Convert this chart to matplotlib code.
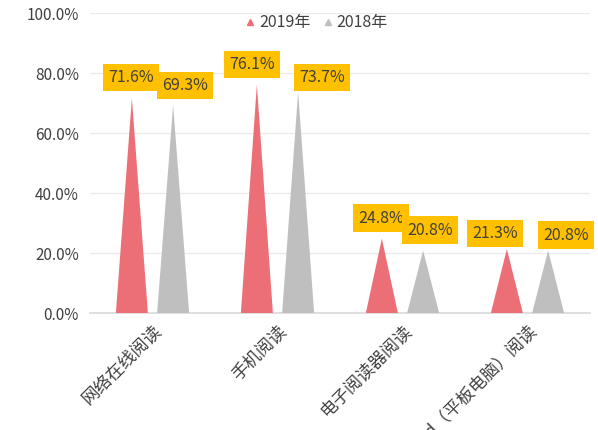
import matplotlib
matplotlib.use("Agg")
import matplotlib.pyplot as plt
from matplotlib.lines import Line2D
import numpy as np

plt.rcParams['font.family'] = ['Noto Sans CJK SC', 'DejaVu Sans']

categories = ["网络在线阅读", "手机阅读", "电子阅读器阅读", "iPad（平板电脑）阅读"]
series_names = ["2019年", "2018年"]
values_2019 = [71.6, 76.1, 24.8, 21.3]
values_2018 = [69.3, 73.7, 20.8, 20.8]
yticks = [0, 20, 40, 60, 80, 100]

colors = ["#EC6F78", "#BFBFBF"]
label_bg = "#FFC000"
text_col = "#404040"

# label offsets (pixels) relative to cone tip: (dx, dy)
offsets_2019 = [(-1, 7), (-5, 7), (-1, 7), (-12, 2)]
offsets_2018 = [(12, 6), (24, 1), (7, 7), (18, 2)]

fig = plt.figure(figsize=(5.98, 4.30), dpi=100)
ax = fig.add_axes([90/598, 1-313/430, 500/598, 300/430])

x = np.arange(len(categories))
shift = 0.165
half = 0.128

for vals, col, sgn, offs in [(values_2019, colors[0], -1, offsets_2019),
                              (values_2018, colors[1], 1, offsets_2018)]:
    for xi, v, (dx, dy) in zip(x, vals, offs):
        cx = xi + sgn * shift
        ax.fill([cx - half, cx, cx + half], [0, v, 0], color=col, lw=0, zorder=3)
        ax.annotate(f"{v:.1f}%", xy=(cx, v), xytext=(dx, dy + 5),
                    textcoords='offset pixels', ha='center', va='bottom',
                    fontsize=11.5, color=text_col, zorder=5,
                    bbox=dict(boxstyle='square,pad=0.32', fc=label_bg, ec='none'))

ax.set_xlim(-0.5, len(categories) - 0.5)
ax.set_ylim(0, 100)
ax.set_yticks(yticks)
ax.set_yticklabels([f"{t:.1f}%" for t in yticks], fontsize=11, color=text_col)
ax.set_xticks(x)
ax.set_xticklabels(categories, rotation=45, ha='right', va='top',
                   rotation_mode='anchor', fontsize=12.5, color=text_col)
ax.tick_params(axis='both', length=0, pad=8)
ax.tick_params(axis='x', pad=6)
ax.grid(axis='y', color='#EBEBEB', lw=1, zorder=0)
for s in ['top', 'right', 'left']:
    ax.spines[s].set_visible(False)
ax.spines['bottom'].set_color('#D9D9D9')
ax.spines['bottom'].set_linewidth(1.2)

handles = [Line2D([], [], marker='^', ls='none', color=c, markersize=5) for c in colors]
fig.legend(handles, series_names, loc='upper center', bbox_to_anchor=(315/598, 1.0),
           ncol=2, frameon=False, fontsize=11.5, handletextpad=0.05, columnspacing=0.6,
           handlelength=1.0, labelcolor=text_col)

fig.savefig("out.png", dpi=100)
